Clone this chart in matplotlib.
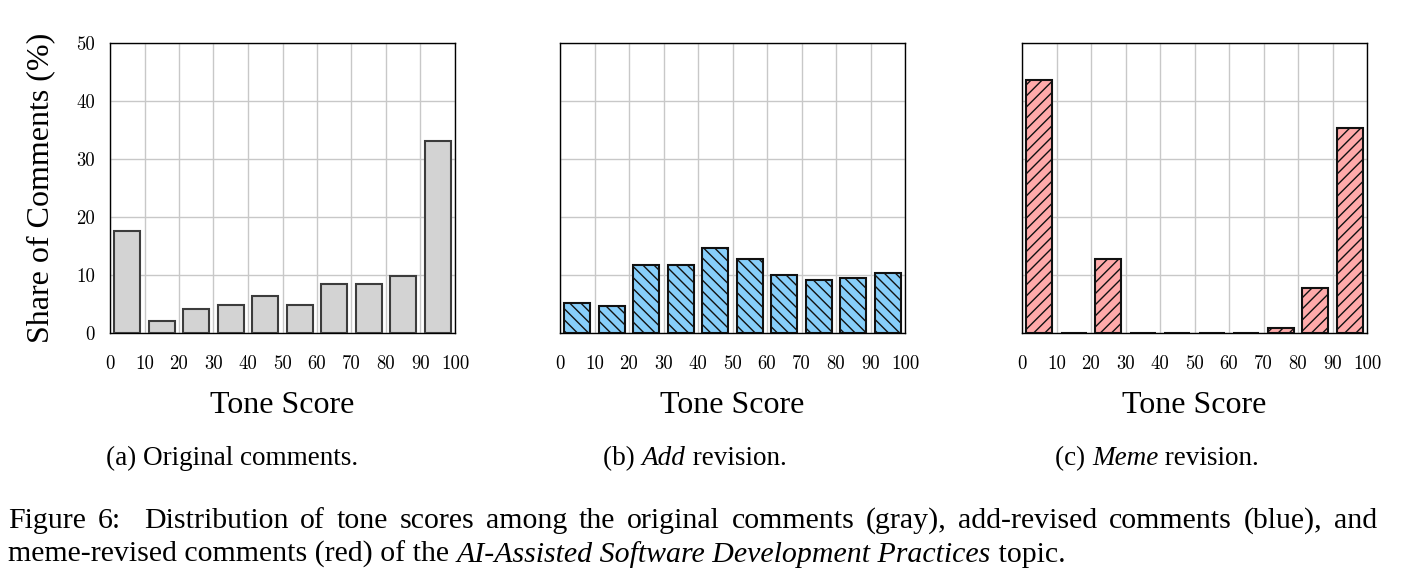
import numpy as np
import matplotlib
matplotlib.use("Agg")
from matplotlib import pyplot as plt

# bin edges of the tone score (0-100 in steps of 10)
bins = np.arange(0, 101, 10)
centers = bins[:-1] + 5

# share of comments (%) per bin
original = [17.6, 2.1, 4.2, 4.9, 6.3, 4.9, 8.5, 8.5, 9.9, 33.1]
add_rev = [5.2, 4.7, 11.8, 11.8, 14.7, 12.8, 10.0, 9.1, 9.5, 10.4]
meme_rev = [43.7, 0.0, 12.7, 0.0, 0.0, 0.0, 0.0, 0.8, 7.7, 35.4]

xtick_labels = [str(b) for b in bins]
yticks = [0, 10, 20, 30, 40, 50]

serif = "Liberation Serif"
cm = "cmr10"

plt.rcParams["hatch.linewidth"] = 1.0

fig = plt.figure(figsize=(14.03, 5.86), dpi=100)
renderer = fig.canvas.get_renderer()

panels = [
    # left, values, face, edge, hatch, caption center, caption pieces
    (110, original, "#d3d3d3", "#3c3c3c", None, 232,
     [("(a) Original comments.", "normal")]),
    (560, add_rev, "#87cefa", "#111111", "\\\\\\", 695,
     [("(b) ", "normal"), ("Add", "italic"), (" revision.", "normal")]),
    (1022, meme_rev, "#ffaaaa", "#111111", "///", 1157,
     [("(c) ", "normal"), ("Meme", "italic"), (" revision.", "normal")]),
]

W, H = 1403, 586


def measure(s, size, style="normal"):
    t = fig.text(0, 0, s, fontsize=size, family=serif, style=style)
    w = t.get_window_extent(renderer).width
    t.remove()
    return w


def rich_text(pieces, x, y, size, ha="left"):
    """ draw text pieces one after the other, some of them italic """
    widths = [measure(s, size, style) for s, style in pieces]
    if ha == "center":
        x = x - sum(widths) / 2
    for (s, style), w in zip(pieces, widths):
        fig.text(x / W, 1 - y / H, s, fontsize=size, family=serif,
                 style=style, va="baseline")
        x += w


def justified(line, x0, x1, y, size):
    """ spread the words of one line over x0..x1 """
    words = line.split(" ")
    widths = [measure(w, size) for w in words]
    gap = (x1 - x0 - sum(widths)) / (len(words) - 1)
    x = x0
    for w, wd in zip(words, widths):
        fig.text(x / W, 1 - y / H, w, fontsize=size, family=serif,
                 va="baseline")
        x += wd + gap


for i, (left, vals, face, edge, hatch, cx, cap) in enumerate(panels):
    ax = fig.add_axes([left / W, 1 - 333 / H, 345 / W, 290 / H])
    ax.bar(centers, vals, width=7.5, color=face, edgecolor=edge,
           linewidth=1.5, hatch=hatch, zorder=3)
    ax.set_xlim(0, 100)
    ax.set_ylim(0, 50)
    ax.set_xticks(bins)
    ax.set_xticklabels(xtick_labels, family=cm, fontsize=13.5)
    ax.set_yticks(yticks)
    if i == 0:
        ax.set_yticklabels([str(v) for v in yticks], family=cm, fontsize=13.5)
        ax.set_ylabel("Share of Comments (%)", family=serif, fontsize=23,
                      labelpad=15)
    else:
        ax.set_yticklabels([])
    ax.tick_params(length=0)
    ax.tick_params(axis="x", pad=16)
    ax.tick_params(axis="y", pad=11)
    ax.grid(True, color="#c8c8c8", linewidth=1.0, zorder=0)
    ax.set_axisbelow(True)
    for sp in ax.spines.values():
        sp.set_linewidth(1.0)
        sp.set_color("black")
    ax.set_xlabel("Tone Score", family=serif, fontsize=23, labelpad=13)
    rich_text(cap, cx, 465, 19.5, ha="center")

# figure caption
cap_size = 21.5
justified("Figure 6:  Distribution of tone scores among the original comments (gray), "
          "add-revised comments (blue), and", 8, 1377, 528, cap_size)
rich_text([("meme-revised comments (red) of the ", "normal"),
           ("AI-Assisted Software Development Practices", "italic"),
           (" topic.", "normal")], 8, 562, cap_size)

fig.savefig("out.png", dpi=100)
